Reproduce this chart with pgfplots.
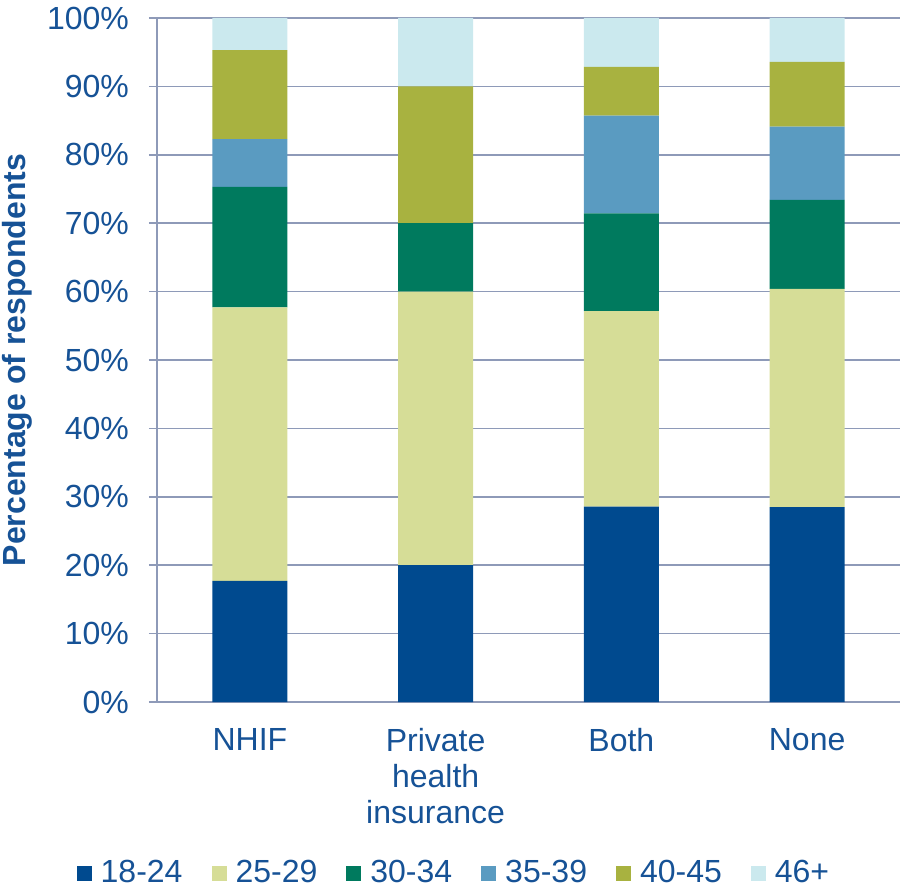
\documentclass[border=0pt]{standalone}
\usepackage{pgfplots}
\pgfplotsset{compat=1.18}
\usepackage{fontspec}
\setmainfont{Liberation Sans}
\definecolor{textblue}{RGB}{22,82,150}
\definecolor{gridc}{RGB}{142,154,184}
\definecolor{ca}{RGB}{0,74,143}
\definecolor{cb}{RGB}{214,221,151}
\definecolor{cc}{RGB}{0,122,94}
\definecolor{cd}{RGB}{90,155,193}
\definecolor{ce}{RGB}{168,178,64}
\definecolor{cf}{RGB}{203,233,238}
\begin{document}
\begin{tikzpicture}
\useasboundingbox (-78.5pt,-95.5pt) rectangle (373.5pt,351pt);
\begin{axis}[
  scale only axis,
  width=371.5pt, height=342pt,
  ybar stacked, bar width=37.5pt,
  xmin=-0.5, xmax=3.5, ymin=0, ymax=100,
  xtick={0,1,2,3},
  xticklabels={NHIF,{Private\\health\\insurance},Both,None},
  xticklabel style={align=center, font=\fontsize{16}{18}\selectfont, text=textblue, yshift=-5.5pt},
  extra x ticks={-0.5,0.5,1.5,2.5,3.5},
  extra x tick labels={},
  extra x tick style={major tick length=4pt, tick style={draw=gridc, thick}, grid=none},
  x tick style={draw=none},
  ytick={0,10,...,100},
  yticklabel={\pgfmathprintnumber{\tick}\%},
  yticklabel style={font=\fontsize{16}{18}\selectfont, text=textblue, xshift=-6.5pt},
  /pgf/number format/assume math mode=true,
  ymajorgrids, major grid style={gridc, thick},
  y tick style={draw=gridc, thick}, major tick length=4pt, tick align=outside,
  axis x line*=bottom, axis y line*=left,
  axis line style={draw=gridc, thick, -},
  ylabel={\bfseries Percentage of respondents},
  ylabel style={font=\fontsize{16}{18}\selectfont, text=textblue, at={(axis description cs:-0.188,0.5)}, anchor=center},
  legend style={at={(0.401,-0.25)}, anchor=center, draw=none, legend columns=-1,
    font=\fontsize{16}{18}\selectfont, text=textblue,
    /tikz/every even column/.append style={column sep=12.5pt}},
  legend image code/.code={\fill[#1] (0pt,-3.75pt) rectangle (7.5pt,3.75pt); \path (10pt,0pt);},
]
\addplot[fill=ca, draw=none] coordinates {(0,17.7) (1,20) (2,28.57) (3,28.5)};
\addplot[fill=cb, draw=none] coordinates {(0,40.0) (1,40) (2,28.57) (3,31.9)};
\addplot[fill=cc, draw=none] coordinates {(0,17.6) (1,10) (2,14.29) (3,13.0)};
\addplot[fill=cd, draw=none] coordinates {(0,7.0) (1,0) (2,14.29) (3,10.7)};
\addplot[fill=ce, draw=none] coordinates {(0,13.0) (1,20) (2,7.14) (3,9.5)};
\addplot[fill=cf, draw=none] coordinates {(0,4.7) (1,10) (2,7.14) (3,6.4)};
\legend{18-24,25-29,30-34,35-39,40-45,46+}
\end{axis}
\end{tikzpicture}
\end{document}
